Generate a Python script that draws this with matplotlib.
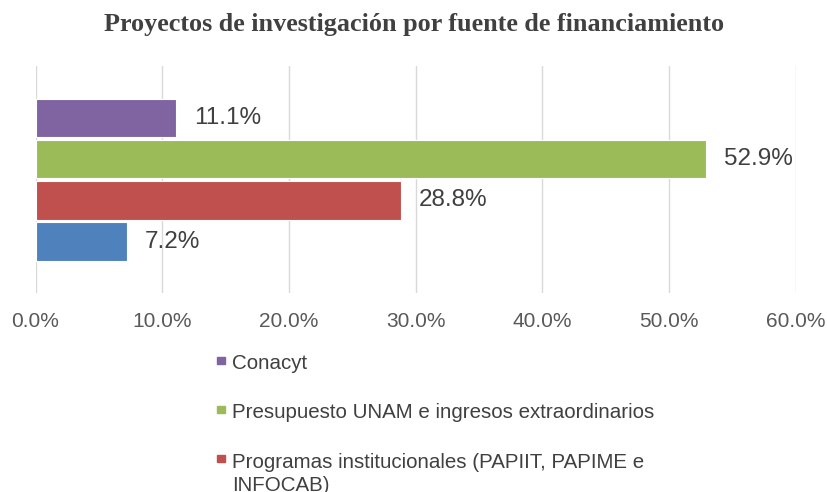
import matplotlib.pyplot as plt
from matplotlib.patches import Rectangle

# Data: share of research projects by funding source (%)
labels = ['Conacyt',
          'Presupuesto UNAM e ingresos extraordinarios',
          'Programas institucionales (PAPIIT, PAPIME e\nINFOCAB)']
values = [11.1, 52.9, 28.8, 7.2]
colors = ['#8064A2', '#9BBB59', '#C0504D', '#4F81BD']
xticks = [0, 10, 20, 30, 40, 50, 60]

W, H = 828, 492
fig = plt.figure(figsize=(W / 100, H / 100), dpi=100)
ax = fig.add_axes([35.5 / W, 1 - 293 / H, (796 - 35.5) / W, (293 - 66) / H])

ypos = [3, 2, 1, 0]
for y, v, c in zip(ypos, values, colors):
    ax.barh(y, v, height=0.93, color=c, edgecolor='white', linewidth=0.8, zorder=2)
    ax.annotate(f'{v:.1f}%', xy=(v, y), xytext=(13, 0), textcoords='offset points',
                va='center', ha='left', fontsize=17.5, color='#404040',
                family='Liberation Sans')

ax.set_xlim(0, 60)
ax.set_ylim(-1.25, 4.27)
ax.set_xticks(xticks)
ax.set_xticklabels([f'{t:.1f}%' for t in xticks], family='Liberation Sans',
                   fontsize=15, color='#595959')
ax.set_yticks([])
ax.tick_params(axis='x', length=0, pad=14)
ax.grid(axis='x', color='#d9d9d9', linewidth=1, zorder=0)
for s in ax.spines.values():
    s.set_visible(False)

fig.text(0.5, 1 - 24 / H, 'Proyectos de investigación por fuente de financiamiento',
         ha='center', va='center', fontsize=18.8, fontweight='bold',
         family='Liberation Serif', color='#404040')

# legend drawn by hand so the marker sits on the first line of wrapped text
for i, (lab, c) in enumerate(zip(labels, colors)):
    base = 369 + 49 * i
    fig.patches.append(Rectangle((217.5 / W, 1 - (base - 5) / H), 8 / W, 7.5 / H,
                                 transform=fig.transFigure, color=c))
    # va='baseline' pins the last line, so push down by the extra lines
    last = base + 24 * lab.count('\n')
    fig.text(232 / W, 1 - last / H, lab, ha='left', va='baseline',
             fontsize=14.8, family='Liberation Sans', color='#404040',
             linespacing=1.25)

fig.savefig('out.png', dpi=100)
